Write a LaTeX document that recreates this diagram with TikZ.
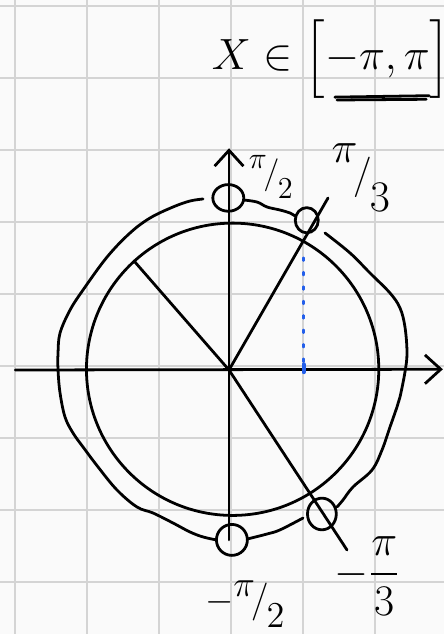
\documentclass[tikz,border=0pt]{standalone}
\usepackage{xcolor}
\usepackage{amsmath}
\usepackage{tikz}
\usetikzlibrary{positioning,arrows.meta,shapes.geometric}
\definecolor{penblue}{RGB}{35,95,235}
\newcommand{\slfrac}[3][0.45em]{\raisebox{#1}{$#2$}\kern-0.1em/\kern-0.05em\raisebox{-#1}{$#3$}}

\begin{document}
\begin{tikzpicture}[>={Straight Barb[length=2.2mm,width=4mm]},
  gridline/.style={black!17, line width=0.8pt},
  ink/.style={line width=1.1pt, line cap=round, line join=round},
  ptmark/.style={ink, draw, ellipse, inner sep=0pt},
  lbl/.style={font=\fontsize{16}{19}\selectfont, inner sep=0pt}]
  \path[use as bounding box, fill=black!2] (-3.181,-3.667) rectangle (2.986,5.139);
  % squared paper
  \foreach \gx in {-2.97,-1.97,...,2.1} \draw[gridline] (\gx,-3.667) -- (\gx,5.139);
  \foreach \gy in {-2.95,-1.95,...,5.1} \draw[gridline] (-3.181,\gy) -- (2.986,\gy);

  % axes
  \coordinate (O) at (0,0);
  \coordinate (xl) at (-2.97,0);
  \coordinate (xr) at (2.97,0.01);
  \coordinate (yb) at (0,-2.36);
  \coordinate (yt) at (0,3.08);
  \draw[ink,->] (xl) -- (xr);
  \draw[ink,->] (yb) -- (yt);

  % unit circle
  \draw[ink] (0.05,0.01) circle[radius=2.03];

  % marked points on the outer ring
  \node[ptmark, minimum width=4.3mm, minimum height=3.7mm] (p2) at (-0.01,2.39) {};
  \node[ptmark, minimum width=3.2mm, minimum height=3.5mm] (p3) at (1.08,2.08) {};
  \node[ptmark, minimum width=4mm, minimum height=4.4mm] (m3) at (1.29,-2.0) {};
  \node[ptmark, minimum width=4.3mm, minimum height=4.3mm] (m2) at (0.04,-2.36) {};

  % rays
  \coordinate (a3) at (1.375,2.389);
  \coordinate (a34) at (-1.319,1.514);
  \coordinate (am3) at (1.639,-2.5);
  \draw[ink] (O) -- (a3);
  \draw[ink] (O) -- (a34);
  \draw[ink] (O) -- (am3);

  % projection of pi/3
  \coordinate (b1) at (1.035,1.56);
  \coordinate (b0) at (1.035,-0.03);
  \coordinate (b0u) at (1.035,0.08);
  \draw[penblue, line width=0.9pt, line cap=round, dash pattern=on 1.2pt off 4.5pt] (b1) -- (b0);
  \draw[penblue, line width=1.6pt, line cap=round] (b0u) -- (b0);

  % outer ring, drawn by hand
  \draw[ink] plot[smooth, tension=0.6] coordinates {(-0.361,2.375) (-0.542,2.347) (-0.778,2.264)
    (-1.097,2.111) (-1.375,1.903) (-1.694,1.569) (-2.028,1.111) (-2.208,0.833) (-2.347,0.514)
    (-2.375,0.236) (-2.375,0) (-2.347,-0.319) (-2.278,-0.653) (-2.167,-0.875) (-2.028,-1.069)
    (-1.819,-1.347) (-1.556,-1.667) (-1.278,-1.903) (-1.056,-1.986) (-0.778,-2.125)
    (-0.542,-2.25) (-0.361,-2.319) (-0.173,-2.361)};
  \draw[ink] plot[smooth, tension=0.6] coordinates {(0.255,-2.347) (0.528,-2.278) (0.708,-2.221) (1.028,-2.056)};
  \draw[ink] plot[smooth, tension=0.6] coordinates {(1.5,-1.903) (1.583,-1.806) (1.722,-1.625)
    (1.986,-1.389) (2.125,-1.111) (2.236,-0.792) (2.333,-0.514) (2.375,-0.375) (2.444,-0.028)
    (2.472,0.236) (2.444,0.597) (2.375,0.861) (2.236,1.069) (1.958,1.347) (1.681,1.625) (1.333,1.903)};
  \draw[ink] plot[smooth, tension=0.6] coordinates {(0.205,2.361) (0.389,2.333) (0.528,2.264)
    (0.708,2.222) (0.847,2.181) (0.93,2.13)};

  % labels
  \node[lbl, font=\fontsize{17}{19}\selectfont] (title) at (1.42,4.32) {$X\in\Big[{-}\pi,\pi\Big]$};
  \draw[ink] (1.47,3.79) -- (2.78,3.81);
  \draw[ink] (1.5,3.75) -- (2.74,3.76);
  \node[lbl, font=\fontsize{13}{15}\selectfont] (lp2) at (0.58,2.68) {\slfrac{\pi}{2}};
  \node[lbl] (lp3) at (1.83,2.67) {\slfrac[0.6em]{\pi}{3}};
  \node[lbl] (lm3) at (1.92,-2.86) {$-\dfrac{\pi}{3}$};
  \node[lbl, font=\fontsize{15}{17}\selectfont] (lm2) at (0.22,-3.25) {${-}$\slfrac[0.4em]{\pi}{2}};
\end{tikzpicture}
\end{document}
